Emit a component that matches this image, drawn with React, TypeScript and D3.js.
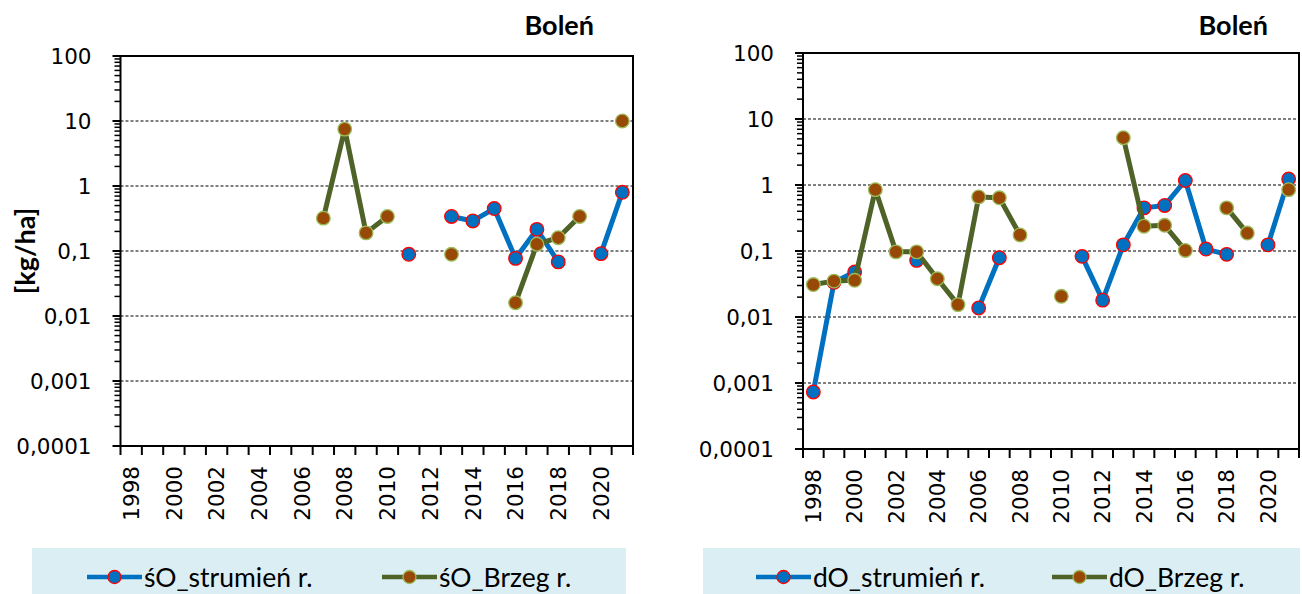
import * as d3 from "d3";

const years = d3.range(1998, 2022);
const yTicks = [100, 10, 1, 0.1, 0.01, 0.001, 0.0001];
const yTickLabels = ["100", "10", "1", "0,1", "0,01", "0,001", "0,0001"];
const gridValues = [10, 1, 0.1, 0.01, 0.001];

// left chart: śO
const soStrumien = [
  null, null, null, null, null, null, null, null, null, null, null, null, null,
  0.089, null, 0.34, 0.29, 0.45, 0.077, 0.215, 0.068, null, 0.091, 0.8,
];
const soBrzeg = [
  null, null, null, null, null, null, null, null, null,
  0.32, 7.5, 0.19, 0.34, null, null, 0.089, null, null, 0.016, 0.127, 0.16, 0.34, null, 10,
];

// right chart: dO
const doStrumien = [
  0.00073, 0.0335, 0.048, null, null, 0.072, null, null, 0.0137, 0.079, null, null, null,
  0.083, 0.018, 0.124, 0.45, 0.49, 1.17, 0.107, 0.089, null, 0.124, 1.23,
];
const doBrzeg = [
  0.031, 0.035, 0.036, 0.85, 0.097, 0.097, 0.038, 0.0154, 0.66, 0.64, 0.175, null, 0.0206,
  null, null, 5.2, 0.237, 0.245, 0.102, null, 0.45, 0.187, null, 0.85,
];

const BLUE = "#0070C0";
const RED = "#FF0000";
const OLIVE = "#4F6228";
const BROWN = "#984807";
const LIGHT = "#9BBB59";
const TICK_FONT = "DejaVu Sans";
const TEXT_FONT = "Lato";

type Series = { name: string; values: (number | null)[]; line: string; fill: string; stroke: string };

function Panel({ box, series, title, titleX, showYTitle, legend }: any) {
  const { left, top, right, bottom } = box;
  const x = d3.scaleBand<number>().domain(years).range([left, right]);
  const y = d3.scaleLog().domain([0.0001, 100]).range([bottom, top]);
  const cx = (yr: number) => (x(yr) as number) + x.bandwidth() / 2;

  // minor ticks 2..9 in every decade
  const minor: number[] = [];
  for (let e = -4; e < 2; e++) for (let k = 2; k <= 9; k++) minor.push(k * Math.pow(10, e));

  const line = d3
    .line<number | null>()
    .defined((d) => d != null)
    .x((_, i) => cx(years[i]))
    .y((d) => y(d as number));

  return (
    <g>
      {gridValues.map((v) => (
        <line key={v} x1={left} x2={right} y1={y(v)} y2={y(v)} stroke="#000" strokeWidth={1} strokeDasharray="3,2" />
      ))}
      <rect x={left} y={top} width={right - left} height={bottom - top} fill="none" stroke="#000" strokeWidth={2} />
      {yTicks.map((v) => (
        <line key={v} x1={left - 8} x2={left} y1={y(v)} y2={y(v)} stroke="#000" strokeWidth={2} />
      ))}
      {minor.map((v) => (
        <line key={v} x1={left - 6} x2={left} y1={y(v)} y2={y(v)} stroke="#000" strokeWidth={1.5} />
      ))}
      {yTicks.map((v, i) => (
        <text key={v} x={left - 29} y={y(v)} dy="0.36em" textAnchor="end" fontFamily={TICK_FONT} fontSize={21.5} fill="#000">
          {yTickLabels[i]}
        </text>
      ))}
      {d3.range(years.length + 1).map((i) => {
        const xx = left + i * x.bandwidth();
        return <line key={i} x1={xx} x2={xx} y1={bottom} y2={bottom + 9} stroke="#000" strokeWidth={2} />;
      })}
      {years
        .filter((yr) => (yr - 1998) % 2 === 0)
        .map((yr) => (
          <text
            key={yr}
            transform={`translate(${cx(yr)},${bottom + 20}) rotate(-90)`}
            dy="0.36em"
            textAnchor="end"
            fontFamily={TICK_FONT}
            fontSize={21.5}
            fill="#000"
          >
            {yr}
          </text>
        ))}
      {showYTitle && (
        <text
          transform={`translate(25,${(top + bottom) / 2}) rotate(-90)`}
          dy="0.36em"
          textAnchor="middle"
          fontFamily={TEXT_FONT}
          fontWeight="bold"
          fontSize={27}
        >
          [kg/ha]
        </text>
      )}
      <text x={titleX} y={35} textAnchor="end" fontFamily={TEXT_FONT} fontWeight="bold" fontSize={27}>
        {title}
      </text>
      {series.map((s: Series) => (
        <g key={s.name}>
          <path d={line(s.values) || ""} fill="none" stroke={s.line} strokeWidth={5} strokeLinejoin="round" />
          {s.values.map((v, i) =>
            v == null ? null : (
              <circle key={i} cx={cx(years[i])} cy={y(v)} r={6.8} fill={s.fill} stroke={s.stroke} strokeWidth={1.3} />
            )
          )}
        </g>
      ))}
      <rect x={legend.x} y={548} width={legend.w} height={50} fill="#DAEEF3" />
      {series.map((s: Series, i: number) => {
        const lx = legend.items[i];
        return (
          <g key={s.name}>
            <line x1={lx} x2={lx + 55} y1={577} y2={577} stroke={s.line} strokeWidth={4.5} />
            <circle cx={lx + 27.5} cy={577} r={6.5} fill={s.fill} stroke={s.stroke} strokeWidth={1.3} />
            <text x={lx + 57} y={577} dy="0.36em" fontFamily={TEXT_FONT} fontSize={26.5} fill="#000">
              {s.name}
            </text>
          </g>
        );
      })}
    </g>
  );
}

export default function App() {
  const leftSeries: Series[] = [
    { name: "śO_strumień r.", values: soStrumien, line: BLUE, fill: BLUE, stroke: RED },
    { name: "śO_Brzeg r.", values: soBrzeg, line: OLIVE, fill: BROWN, stroke: LIGHT },
  ];
  const rightSeries: Series[] = [
    { name: "dO_strumień r.", values: doStrumien, line: BLUE, fill: BLUE, stroke: RED },
    { name: "dO_Brzeg r.", values: doBrzeg, line: OLIVE, fill: BROWN, stroke: LIGHT },
  ];
  return (
    <svg width={1302} height={594} style={{ position: "absolute", left: 0, top: 0, background: "#fff" }}>
      <rect width={1302} height={594} fill="#fff" />
      <Panel
        box={{ left: 120.5, top: 56, right: 633, bottom: 446 }}
        series={leftSeries}
        title="Boleń"
        titleX={594}
        showYTitle
        legend={{ x: 32, w: 594, items: [87, 382] }}
      />
      <Panel
        box={{ left: 803, top: 53, right: 1299, bottom: 449 }}
        series={rightSeries}
        title="Boleń"
        titleX={1268}
        showYTitle={false}
        legend={{ x: 703, w: 597, items: [756, 1052] }}
      />
    </svg>
  );
}
